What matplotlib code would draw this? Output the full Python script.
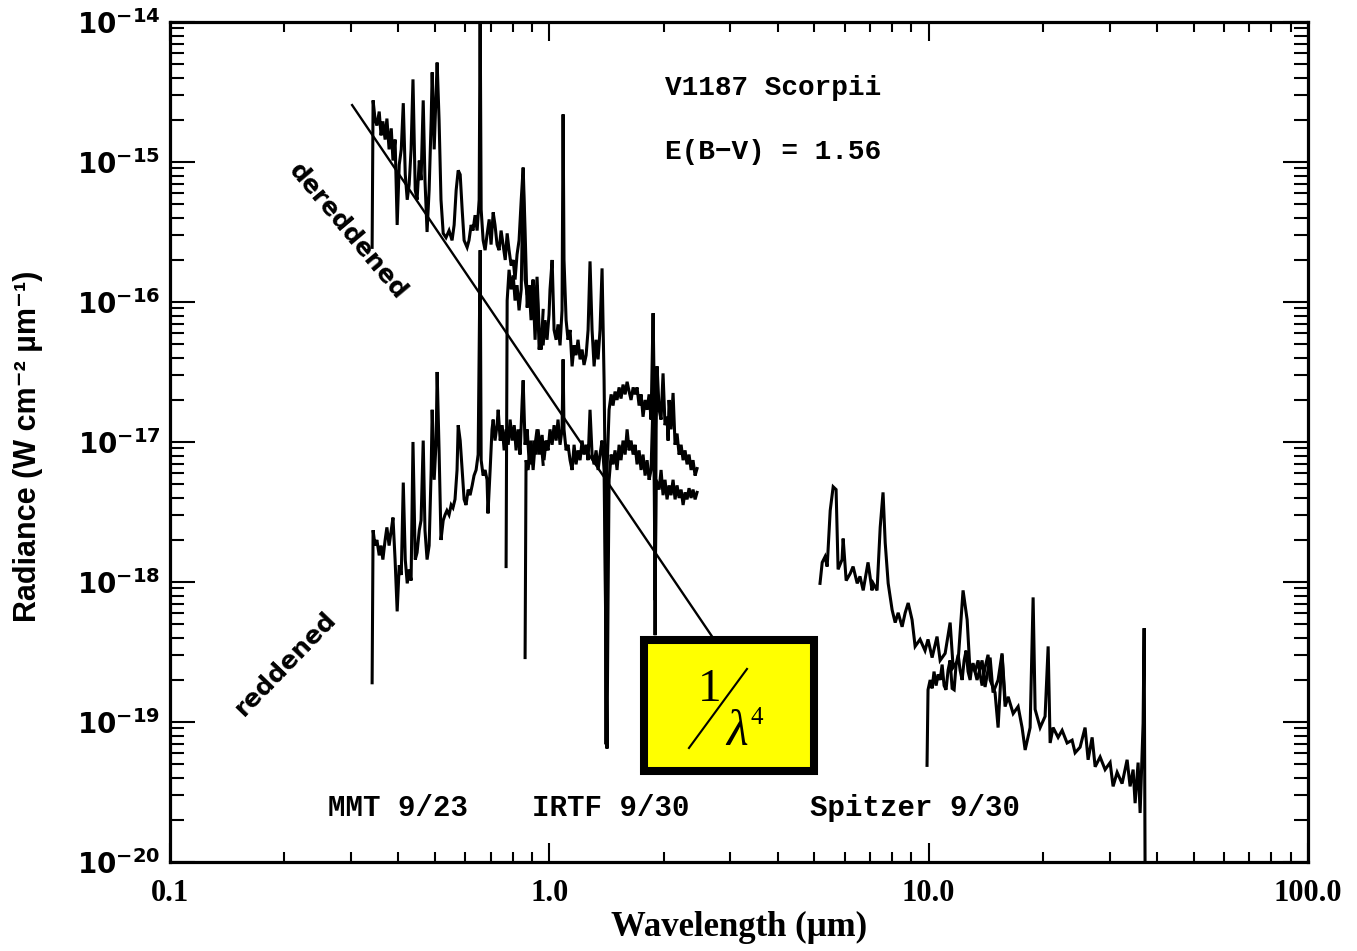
import matplotlib
matplotlib.use("Agg")
import matplotlib.pyplot as plt
import numpy as np
from matplotlib.lines import Line2D
from matplotlib.patches import Rectangle
from matplotlib.ticker import LogLocator, NullFormatter

# MMT optical spectrum, dereddened (wavelength in um, log10 radiance)
mmt_dered_wl = [0.341, 0.343, 0.347, 0.351, 0.356, 0.360, 0.364, 0.369, 0.373, 0.378,
                0.383, 0.387, 0.392, 0.397, 0.402, 0.407, 0.412, 0.417, 0.422, 0.427,
                0.432, 0.437, 0.443, 0.448, 0.454, 0.459, 0.465, 0.470, 0.476, 0.482,
                0.488, 0.491, 0.497, 0.503, 0.506, 0.512, 0.518, 0.525, 0.534, 0.544,
                0.554, 0.561, 0.568, 0.575, 0.582, 0.589, 0.596, 0.607, 0.614, 0.622,
                0.629, 0.637, 0.645, 0.653, 0.657, 0.661, 0.669, 0.677, 0.685, 0.694,
                0.702, 0.711, 0.719, 0.728, 0.737, 0.746, 0.755, 0.765, 0.774, 0.783,
                0.793, 0.803, 0.812, 0.822, 0.832, 0.843, 0.853, 0.863, 0.874, 0.884,
                0.895, 0.906, 0.917, 0.928, 0.940, 0.951, 0.963]
mmt_dered_logf = [-15.61, -14.56, -14.69, -14.74, -14.64, -14.81, -14.71, -14.84, -14.69, -14.91,
                  -14.76, -14.99, -14.84, -15.45, -15.02, -14.91, -14.58, -15.09, -15.27, -15.16,
                  -14.91, -14.41, -15.20, -15.27, -14.99, -15.13, -14.56, -15.13, -15.50, -15.20,
                  -14.70, -14.36, -14.91, -14.49, -14.29, -14.70, -15.27, -15.51, -15.54, -15.49,
                  -15.56, -15.45, -15.20, -15.06, -15.09, -15.34, -15.56, -15.61, -15.56, -15.45,
                  -15.49, -15.38, -15.49, -15.27, -13.91, -15.34, -15.56, -15.63, -15.52, -15.41,
                  -15.59, -15.36, -15.45, -15.59, -15.63, -15.49, -15.59, -15.70, -15.51, -15.63,
                  -15.74, -15.70, -15.84, -15.66, -15.56, -15.27, -15.04, -15.49, -16.04, -15.88,
                  -15.99, -15.84, -16.13, -15.82, -16.20, -16.34, -16.06]

# MMT optical spectrum, as observed (reddened)
mmt_red_wl = [0.341, 0.343, 0.347, 0.351, 0.356, 0.360, 0.364, 0.369, 0.373, 0.378,
              0.383, 0.387, 0.392, 0.397, 0.402, 0.407, 0.412, 0.417, 0.422, 0.427,
              0.432, 0.437, 0.443, 0.448, 0.454, 0.459, 0.465, 0.470, 0.476, 0.482,
              0.488, 0.491, 0.497, 0.503, 0.506, 0.512, 0.518, 0.525, 0.531, 0.537,
              0.544, 0.551, 0.557, 0.564, 0.571, 0.575, 0.582, 0.589, 0.596, 0.603,
              0.611, 0.618, 0.626, 0.633, 0.641, 0.649, 0.657, 0.661, 0.669, 0.677,
              0.685, 0.689, 0.698, 0.706, 0.711, 0.719, 0.728, 0.733, 0.742, 0.751,
              0.760, 0.769, 0.779, 0.788, 0.798, 0.808, 0.817, 0.827, 0.837, 0.848,
              0.853, 0.863, 0.874, 0.884, 0.895, 0.906, 0.917, 0.928, 0.940, 0.951,
              0.963]
mmt_red_logf = [-18.72, -17.63, -17.74, -17.70, -17.81, -17.74, -17.84, -17.70, -17.61, -17.74,
                -17.63, -17.54, -17.84, -18.21, -17.88, -17.95, -17.29, -17.84, -18.01, -17.91,
                -17.99, -17.00, -17.84, -17.79, -17.63, -17.56, -16.99, -17.63, -17.84, -17.74,
                -17.20, -16.77, -17.27, -16.99, -16.50, -17.06, -17.70, -17.56, -17.52, -17.49,
                -17.52, -17.45, -17.47, -17.41, -17.20, -16.88, -16.99, -17.20, -17.41, -17.45,
                -17.34, -17.38, -17.31, -17.24, -17.20, -17.09, -15.63, -17.13, -17.24, -17.20,
                -17.27, -17.51, -17.20, -16.91, -16.84, -16.99, -16.88, -16.77, -16.99, -16.88,
                -17.06, -16.91, -17.02, -16.84, -16.99, -16.88, -17.06, -16.91, -17.09, -16.70,
                -16.56, -17.02, -16.91, -17.13, -16.99, -17.20, -17.02, -16.91, -17.09, -16.99,
                -17.16]

# IRTF near-IR spectrum, dereddened
irtf_dered_wl = [0.769, 0.774, 0.783, 0.793, 0.803, 0.812, 0.822, 0.832, 0.843, 0.853,
                 0.863, 0.874, 0.884, 0.895, 0.906, 0.917, 0.928, 0.940, 0.951, 0.963,
                 0.974, 0.986, 0.998, 1.004, 1.017, 1.029, 1.042, 1.054, 1.067, 1.080,
                 1.087, 1.093, 1.107, 1.120, 1.134, 1.148, 1.162, 1.176, 1.190, 1.205,
                 1.220, 1.234, 1.250, 1.265, 1.280, 1.296, 1.312, 1.328, 1.344, 1.360,
                 1.377, 1.394, 1.402, 1.411, 1.419, 1.437, 1.455, 1.472, 1.490, 1.508,
                 1.527, 1.545, 1.564, 1.584, 1.603, 1.623, 1.642, 1.663, 1.683, 1.703,
                 1.724, 1.745, 1.766, 1.788, 1.810, 1.832, 1.854, 1.877, 1.888, 1.900,
                 1.912, 1.923, 1.947, 1.970, 1.994, 2.018, 2.043, 2.056, 2.068, 2.093,
                 2.119, 2.145, 2.171, 2.198, 2.225, 2.252, 2.279, 2.307, 2.335, 2.364,
                 2.392, 2.422, 2.451]
irtf_dered_logf = [-17.89, -15.99, -15.77, -15.91, -15.81, -15.99, -15.88, -16.06, -15.91, -15.09,
                   -15.84, -15.95, -15.88, -16.13, -15.91, -16.27, -15.88, -16.34, -16.20, -16.31,
                   -16.13, -16.27, -16.09, -15.91, -15.70, -16.20, -16.27, -16.16, -16.31, -16.06,
                   -14.66, -15.70, -16.13, -16.27, -16.20, -16.46, -16.31, -16.38, -16.27, -16.41,
                   -16.34, -16.45, -16.38, -16.20, -15.71, -16.20, -16.46, -16.27, -16.41, -16.20,
                   -15.76, -16.56, -17.15, -19.16, -17.20, -16.77, -16.66, -16.74, -16.64, -16.70,
                   -16.61, -16.69, -16.59, -16.66, -16.57, -16.64, -16.70, -16.61, -16.66, -16.61,
                   -16.74, -16.66, -16.82, -16.70, -16.77, -16.66, -16.84, -16.08, -16.56, -18.38,
                   -16.91, -16.46, -16.77, -16.84, -16.51, -16.88, -16.82, -16.99, -16.70, -16.91,
                   -16.65, -17.02, -16.94, -17.09, -17.02, -17.13, -17.06, -17.16, -17.09, -17.20,
                   -17.13, -17.24, -17.19]

# IRTF near-IR spectrum, reddened
irtf_red_wl = [0.863, 0.868, 0.879, 0.890, 0.900, 0.911, 0.923, 0.934, 0.945, 0.957,
               0.968, 0.980, 0.992, 1.004, 1.017, 1.029, 1.042, 1.054, 1.067, 1.080,
               1.087, 1.093, 1.107, 1.120, 1.134, 1.148, 1.162, 1.176, 1.190, 1.205,
               1.220, 1.234, 1.250, 1.265, 1.280, 1.296, 1.312, 1.328, 1.344, 1.360,
               1.377, 1.394, 1.402, 1.419, 1.428, 1.437, 1.455, 1.472, 1.490, 1.508,
               1.527, 1.545, 1.564, 1.584, 1.603, 1.623, 1.642, 1.663, 1.683, 1.703,
               1.724, 1.745, 1.766, 1.788, 1.810, 1.832, 1.854, 1.877, 1.888, 1.900,
               1.912, 1.947, 1.970, 1.994, 2.018, 2.043, 2.068, 2.093, 2.119, 2.145,
               2.171, 2.198, 2.225, 2.252, 2.279, 2.307, 2.335, 2.364, 2.392, 2.422,
               2.451]
irtf_red_logf = [-18.54, -17.13, -17.20, -17.06, -17.16, -16.99, -17.09, -16.91, -17.06, -16.95,
                 -17.13, -16.99, -17.06, -16.91, -17.02, -16.88, -16.99, -16.84, -17.02, -16.91,
                 -16.41, -16.91, -17.06, -17.02, -17.13, -17.20, -17.02, -17.16, -17.06, -17.13,
                 -16.99, -17.09, -17.02, -17.13, -16.77, -17.09, -17.16, -17.06, -17.20, -17.09,
                 -16.99, -17.20, -17.84, -19.19, -18.13, -17.27, -17.09, -17.16, -17.06, -17.20,
                 -17.02, -17.13, -16.99, -17.09, -16.91, -17.06, -16.99, -17.09, -17.02, -17.16,
                 -17.06, -17.20, -17.09, -17.24, -17.13, -17.27, -17.20, -16.70, -17.13, -18.13,
                 -17.27, -17.34, -17.20, -17.38, -17.27, -17.41, -17.31, -17.38, -17.27, -17.41,
                 -17.31, -17.40, -17.34, -17.45, -17.36, -17.41, -17.33, -17.40, -17.34, -17.41,
                 -17.36]

# Spitzer IRS short-low module
irs_sl_wl = [5.17, 5.24, 5.33, 5.40, 5.50, 5.60, 5.70, 5.77, 5.91, 5.95,
             6.06, 6.21, 6.32, 6.48, 6.59, 6.72, 6.92, 7.09, 7.14, 7.31,
             7.45, 7.58, 7.68, 7.82, 8.01, 8.16, 8.31, 8.51, 8.67, 8.83,
             9.04, 9.21, 9.49, 9.78, 9.96, 10.21, 10.52, 10.72, 11.05, 11.39,
             11.60, 11.96, 12.32, 12.63, 12.86, 13.09, 13.41, 13.83, 14.08, 14.52,
             14.78, 15.24, 15.61, 15.90]
irs_sl_logf = [-18.01, -17.86, -17.82, -17.89, -17.49, -17.32, -17.34, -17.91, -17.84, -17.69,
               -17.99, -17.94, -17.89, -18.01, -17.96, -18.06, -17.86, -18.06, -18.01, -18.06,
               -17.61, -17.36, -17.72, -18.01, -18.20, -18.29, -18.22, -18.32, -18.22, -18.15,
               -18.27, -18.46, -18.41, -18.49, -18.41, -18.54, -18.39, -18.56, -18.51, -18.29,
               -18.61, -18.56, -18.06, -18.27, -18.65, -18.58, -18.70, -18.56, -18.75, -18.54,
               -18.79, -18.70, -18.51, -18.84]

# Spitzer IRS long-low module
irs_ll_wl = [9.90, 9.96, 10.09, 10.21, 10.33, 10.46, 10.59, 10.72, 10.85, 10.98,
             11.11, 11.25, 11.39, 11.53, 11.67, 11.81, 11.96, 12.10, 12.25, 12.40,
             12.55, 12.70, 12.86, 13.01, 13.25, 13.50, 13.66, 13.83, 14.08, 14.34,
             14.52, 14.96, 15.24, 15.61, 15.90, 16.20, 16.70, 17.21, 17.63, 17.96,
             18.51, 18.85, 19.08, 19.67, 20.27, 20.65, 20.90, 21.28, 21.94, 22.48,
             23.17, 23.88, 24.32, 25.07, 25.84, 26.32, 26.97, 27.47, 28.31, 29.18,
             30.08, 30.63, 31.39, 32.35, 33.35, 33.96, 34.59, 35.01, 35.65, 36.09,
             36.75, 36.98, 37.20]
irs_ll_logf = [-19.31, -18.77, -18.70, -18.76, -18.64, -18.74, -18.66, -18.70, -18.59, -18.74,
               -18.77, -18.63, -18.56, -18.76, -18.77, -18.59, -18.52, -18.63, -18.70, -18.56,
               -18.49, -18.64, -18.70, -18.59, -18.64, -18.56, -18.66, -18.74, -18.61, -18.52,
               -18.70, -18.79, -19.04, -18.52, -18.89, -18.82, -18.94, -18.89, -19.04, -19.20,
               -19.04, -18.11, -18.91, -19.04, -18.96, -18.46, -19.15, -19.04, -19.11, -19.06,
               -19.15, -19.13, -19.22, -19.18, -19.04, -19.27, -19.11, -19.32, -19.25, -19.34,
               -19.29, -19.46, -19.36, -19.44, -19.27, -19.46, -19.34, -19.58, -19.29, -19.65,
               -19.01, -18.33, -20.10]

# 1/lambda^4 reference line
rayleigh_wl = [0.302, 2.69]
rayleigh_at_1um = 2.12e-17

xtick_vals = [0.1, 1.0, 10.0, 100.0]
xtick_text = ["0.1", "1.0", "10.0", "100.0"]
ytick_exp = [-20, -19, -18, -17, -16, -15, -14]


def main():
    plt.rcParams['mathtext.default'] = 'bf'

    fig = plt.figure(figsize=(13.57, 9.51), dpi=100)
    ax = fig.add_axes([0.1253, 0.0936, 0.8386, 0.8833])
    ax.set_xscale("log")
    ax.set_yscale("log")

    spectra = [(mmt_dered_wl, mmt_dered_logf), (mmt_red_wl, mmt_red_logf),
               (irtf_dered_wl, irtf_dered_logf), (irtf_red_wl, irtf_red_logf),
               (irs_sl_wl, irs_sl_logf), (irs_ll_wl, irs_ll_logf)]
    for wl, logf in spectra:
        ax.plot(wl, 10 ** np.array(logf), c='k', lw=2.2, solid_joinstyle='miter')

    wl = np.array(rayleigh_wl)
    ax.plot(wl, rayleigh_at_1um * wl ** -4, c='k', lw=1.7)

    # frame, ticks and tick labels
    for s in ax.spines.values():
        s.set_linewidth(2.3)
    ax.set_xticks(xtick_vals, labels=xtick_text, family=['Liberation Serif', 'DejaVu Serif'],
                  fontweight='bold', fontsize=22)
    ax.xaxis.set_minor_locator(LogLocator(base=10, subs=range(2, 10)))
    ax.xaxis.set_minor_formatter(NullFormatter())
    ax.set_yticks([10.0 ** e for e in ytick_exp],
                  labels=[r'$10^{%d}$' % e for e in ytick_exp], fontsize=20)
    ax.yaxis.set_minor_locator(LogLocator(base=10, subs=range(2, 10), numticks=10))
    ax.yaxis.set_minor_formatter(NullFormatter())
    ax.set_xlim(0.1, 100)
    ax.set_ylim(1e-20, 1e-14)

    ax.tick_params(which='both', direction='in', top=True, right=True, width=1.5, color='k')
    ax.tick_params(axis='x', which='major', length=14, pad=12)
    ax.tick_params(axis='x', which='minor', length=7)
    ax.tick_params(axis='y', which='major', length=18, pad=7)
    ax.tick_params(axis='y', which='minor', length=10)

    ax.set_xlabel(u"Wavelength (\u00b5m)", family=['Liberation Serif', 'DejaVu Serif'],
                  weight='bold', fontsize=25)
    ax.xaxis.set_label_coords(0.5, -0.058)
    ax.set_ylabel(u"Radiance (W cm\u207b\u00b2 \u00b5m\u207b\u00b9)",
                  family=['Liberation Sans', 'DejaVu Sans'], weight='bold', fontsize=22)
    ax.yaxis.set_label_coords(-0.112, 0.495)

    mono = dict(family=['Liberation Mono', 'DejaVu Sans Mono'], weight='bold', fontsize=20)
    ax.text(2.02, 3.4e-15, "V1187 Scorpii", ha='left', va='center', **mono)
    ax.text(2.02, 1.18e-15, u"E(B\u2212V) = 1.56", ha='left', va='center', **mono)
    mono['fontsize'] = 21
    ax.text(0.399, 2.45e-20, "MMT 9/23", ha='center', va='center', **mono)
    ax.text(1.455, 2.45e-20, "IRTF 9/30", ha='center', va='center', **mono)
    ax.text(9.21, 2.45e-20, "Spitzer 9/30", ha='center', va='center', **mono)

    ax.text(0.295, 3.2e-16, "dereddened", rotation=-50, ha='center', va='center',
            weight='bold', fontsize=18, rotation_mode='anchor')
    ax.text(0.202, 2.6e-19, "reddened", rotation=46, ha='center', va='center',
            weight='bold', fontsize=18, rotation_mode='anchor')

    # yellow 1/lambda^4 box
    box = Rectangle((0.4165, 0.1083), 0.1494, 0.156, transform=ax.transAxes,
                    facecolor='#ffff00', edgecolor='k', lw=5.8, zorder=5, clip_on=False)
    ax.add_patch(box)
    serif = ['Liberation Serif', 'DejaVu Serif']
    ax.text(0.4745, 0.2048, "1", transform=ax.transAxes, family=serif, fontsize=34,
            ha='center', va='center', zorder=6)
    ax.add_line(Line2D([0.456, 0.507], [0.1357, 0.2298], transform=ax.transAxes,
                       c='k', lw=1.5, zorder=6))
    ax.text(0.4985, 0.1535, u"\u03bb", transform=ax.transAxes, family=serif, fontsize=36,
            style='italic', ha='center', va='center', zorder=6)
    ax.text(0.5160, 0.1720, "4", transform=ax.transAxes, family=serif, fontsize=18,
            ha='center', va='center', zorder=6)

    fig.savefig("out.png", dpi=100, facecolor='white')
    plt.close(fig)


if __name__ == "__main__":
    main()
